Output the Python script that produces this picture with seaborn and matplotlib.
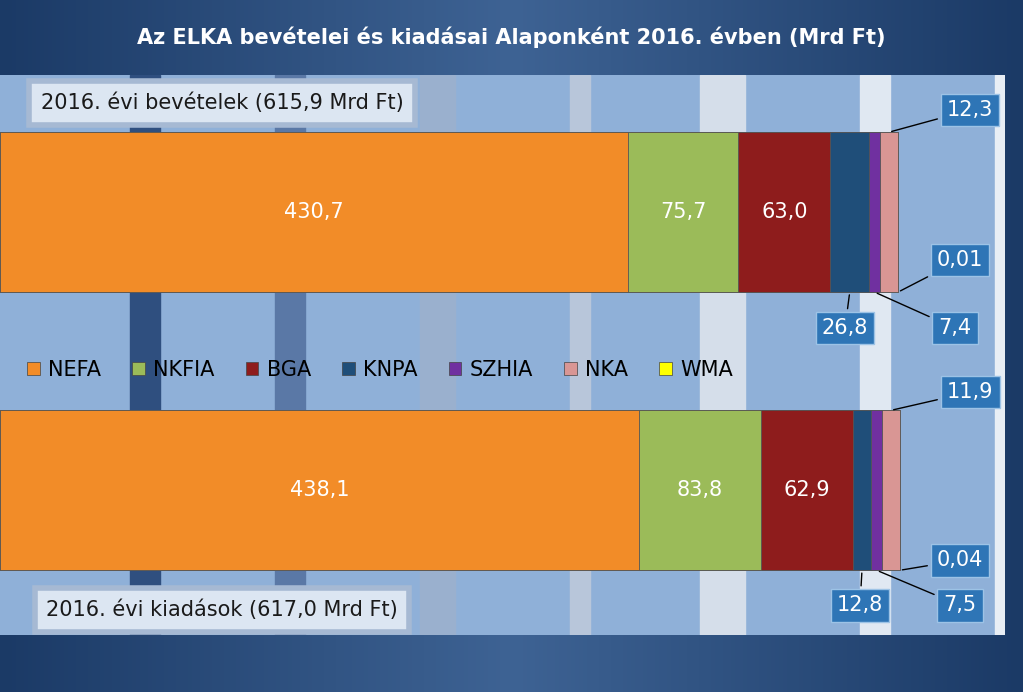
import numpy as np
import pandas as pd
import matplotlib
matplotlib.use("Agg")
import matplotlib.pyplot as plt
import seaborn as sns

categories = ["2016. évi bevételek", "2016. évi kiadások"]
funds = ["NEFA", "NKFIA", "BGA", "KNPA", "SZHIA", "NKA", "WMA"]
revenues = [430.7, 75.7, 63.0, 26.8, 7.4, 12.3, 0.01]
expenses = [438.1, 83.8, 62.9, 12.8, 7.5, 11.9, 0.04]
rev_labels = ["430,7", "75,7", "63,0", "26,8", "7,4", "12,3", "0,01"]
exp_labels = ["438,1", "83,8", "62,9", "12,8", "7,5", "11,9", "0,04"]
colors = ["#F28C28", "#9BBB59", "#8E1C1C", "#1F4E79", "#7030A0", "#D99694", "#FFFF00"]

W, H = 1023, 692
fig = plt.figure(figsize=(W/100, H/100), dpi=100)
bg = fig.add_axes([0, 0, 1, 1]); bg.axis("off")
grad = np.linspace(0, 1, 256)
img = np.outer(np.ones(10), grad)
bg.imshow(img, cmap=matplotlib.colors.LinearSegmentedColormap.from_list("g", ["#1B3A66", "#3E6394", "#1B3A66"]),
          aspect="auto", extent=[0, 1, 0, 1])
bg.set_xlim(0, 1); bg.set_ylim(0, 1)
fig.text(0.5, 1-37/H, "Az ELKA bevételei és kiadásai Alaponként 2016. évben (Mrd Ft)",
         color="white", fontsize=15, fontweight="bold", ha="center", va="center")

ax = fig.add_axes([0, 1-635/H, 1005/W, 560/H])
ax.set_facecolor("#8FB0D8")
xmax = 1005/1.458
for a, b, c in [(570, 590, "#B8C6DA"), (700, 745, "#D5DEEA"), (860, 890, "#E0E8F2"),
                (995, 1005, "#E8EEF5"), (130, 160, "#2F4F7F"), (275, 305, "#5A78A6"), (420, 455, "#9AB0CE")]:
    ax.axvspan(a/1.458, b/1.458, color=c, zorder=0)

cum_r = np.cumsum(revenues); cum_e = np.cumsum(expenses)
for i in reversed(range(len(funds))):
    d = pd.DataFrame({"cat": categories, "x": [cum_r[i], cum_e[i]]})
    sns.barplot(data=d, x="x", y="cat", orient="h", color=colors[i], width=0.575,
                ax=ax, edgecolor="#555555", linewidth=0.6, saturation=1, zorder=2)
ax.set_xlim(0, xmax); ax.set_ylim(1.52, -0.493)
ax.set_xticks([]); ax.set_yticks([]); ax.set_xlabel(""); ax.set_ylabel("")
for s in ax.spines.values():
    s.set_visible(False)

for row, vals, labs in [(0, revenues, rev_labels), (1, expenses, exp_labels)]:
    left = 0
    for i in range(3):
        ax.text(left + vals[i]/2, row, labs[i], color="white", fontsize=15, ha="center", va="center", zorder=5)
        left += vals[i]

box = dict(boxstyle="square,pad=0.3", fc="#2E75B6", ec="#9DC3E6", lw=1)
def px(x, y):
    return x/1.458, -0.493 + (y-75)/278
callouts = [
    (0, 5, 970, 110, "12,3"), (0, 6, 960, 260, "0,01"), (0, 3, 845, 328, "26,8"), (0, 4, 955, 328, "7,4"),
    (1, 5, 970, 392, "11,9"), (1, 6, 960, 560, "0,04"), (1, 3, 860, 605, "12,8"), (1, 4, 960, 605, "7,5"),
]
for row, i, bx, by, lab in callouts:
    vals = revenues if row == 0 else expenses
    c = np.cumsum(vals)
    xm = c[i] - vals[i]/2
    tx, ty = px(bx, by)
    yedge = row - 0.2875 if by < (212 if row == 0 else 490) else row + 0.2875
    ax.annotate(lab, xy=(xm, yedge), xytext=(tx, ty), color="white", fontsize=15,
                ha="center", va="center", bbox=box, zorder=6,
                arrowprops=dict(arrowstyle="-", color="black", lw=1))

for y, t in [(103, "2016. évi bevételek (615,9 Mrd Ft)"), (610, "2016. évi kiadások (617,0 Mrd Ft)")]:
    fig.text(222/W, 1-y/H, t, fontsize=15, ha="center", va="center", color="#1a1a1a",
             bbox=dict(boxstyle="square,pad=0.55", fc="#DCE6F2", ec="#A6B9D3", lw=4))

handles = [matplotlib.patches.Patch(color=c, ec="#444444", lw=0.5) for c in colors]
ax.legend(handles, funds, loc="center", bbox_to_anchor=(380/1005, 1-(370-75)/560), ncol=7,
          frameon=False, fontsize=15, handlelength=0.6, handleheight=0.6, columnspacing=1.5, handletextpad=0.4)
fig.savefig("out.png", dpi=100)
